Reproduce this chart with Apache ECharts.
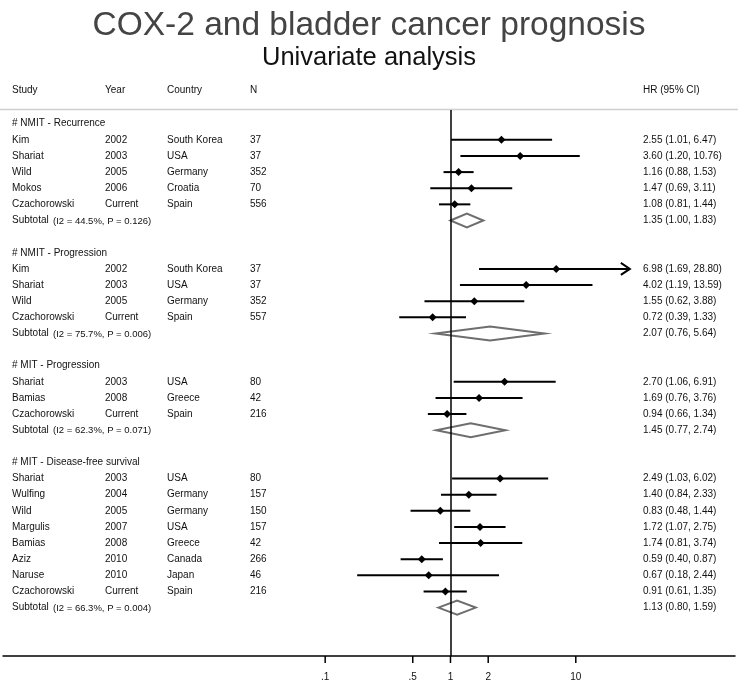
<!DOCTYPE html>
<html><head><meta charset="utf-8">
<script src="https://cdn.jsdelivr.net/npm/echarts@6/dist/echarts.min.js"></script>
<style>html,body{margin:0;padding:0;background:#fff}#c{width:738px;height:683px}</style>
</head><body><div id="c"></div>
<script>
// ---------- data ----------
const groupTitles = ['# NMIT - Recurrence', '# NMIT - Progression', '# MIT - Progression', '# MIT - Disease-free survival'];
const studyGroup   = [0,0,0,0,0, 1,1,1,1, 2,2,2, 3,3,3,3,3,3,3,3];
const studyNames   = ['Kim','Shariat','Wild','Mokos','Czachorowski', 'Kim','Shariat','Wild','Czachorowski', 'Shariat','Bamias','Czachorowski', 'Shariat','Wulfing','Wild','Margulis','Bamias','Aziz','Naruse','Czachorowski'];
const studyYears   = ['2002','2003','2005','2006','Current', '2002','2003','2005','Current', '2003','2008','Current', '2003','2004','2005','2007','2008','2010','2010','Current'];
const studyCountry = ['South Korea','USA','Germany','Croatia','Spain', 'South Korea','USA','Germany','Spain', 'USA','Greece','Spain', 'USA','Germany','Germany','USA','Greece','Canada','Japan','Spain'];
const studyN       = [37,37,352,70,556, 37,37,352,557, 80,42,216, 80,157,150,157,42,266,46,216];
const studyHR      = [2.55,3.60,1.16,1.47,1.08, 6.98,4.02,1.55,0.72, 2.70,1.69,0.94, 2.49,1.40,0.83,1.72,1.74,0.59,0.67,0.91];
const studyLo      = [1.01,1.20,0.88,0.69,0.81, 1.69,1.19,0.62,0.39, 1.06,0.76,0.66, 1.03,0.84,0.48,1.07,0.81,0.40,0.18,0.61];
const studyHi      = [6.47,10.76,1.53,3.11,1.44, 28.80,13.59,3.88,1.33, 6.91,3.76,1.34, 6.02,2.33,1.44,2.75,3.74,0.87,2.44,1.35];
const subHR = [1.35, 2.07, 1.45, 1.13];
const subLo = [1.00, 0.76, 0.77, 0.80];
const subHi = [1.83, 5.64, 2.74, 1.59];
const subI2 = ['44.5%', '75.7%', '62.3%', '66.3%'];
const subP  = ['0.126', '0.006', '0.071', '0.004'];
const tickValues = [0.1, 0.5, 1, 2, 10];
const tickLabels = ['.1', '.5', '1', '2', '10'];
const headerLabels = ['Study', 'Year', 'Country', 'N', 'HR (95% CI)'];

// ---------- layout ----------
const FONT = "'Liberation Sans', Arial, sans-serif";
const COLX = [12, 105, 167, 250, 643];
const TXT = '#111';
const X_MIN = Math.pow(10, -3.571), X_MAX = Math.pow(10, 2.2705);
const Y_MIN = -0.85, Y_MAX = 33;
const CI_LIMIT = 27;

// rows
const rows = [];
let r = 0;
groupTitles.forEach((g, gi) => {
  rows.push({type: 'group', row: r++, gi});
  studyGroup.forEach((sg, i) => { if (sg === gi) rows.push({type: 'study', row: r++, i}); });
  rows.push({type: 'sub', row: r++, gi});
  r++;
});
const studyRow = [], subRow = [];
rows.forEach(o => { if (o.type === 'study') studyRow[o.i] = o.row; if (o.type === 'sub') subRow[o.gi] = o.row; });
const f2 = v => v.toFixed(2);

function txt(x, y, text, size, extra) {
  return {type: 'text', style: Object.assign({x, y, text, fill: TXT, fontSize: size || 10, fontFamily: FONT, verticalAlign: 'middle', align: 'left'}, extra || {})};
}

const chart = echarts.init(document.getElementById('c'), null, {renderer: 'canvas'});
chart.setOption({
  animation: false,
  backgroundColor: '#fff',
  title: [
    {text: 'COX-2 and bladder cancer prognosis', left: 'center', top: 4, textStyle: {fontSize: 33.5, fontWeight: 'normal', color: '#444', fontFamily: FONT}},
    {text: 'Univariate analysis', left: 'center', top: 40, textStyle: {fontSize: 25.5, fontWeight: 'normal', color: '#111', fontFamily: FONT}}
  ],
  grid: {left: 3, right: 3, top: 110, bottom: 27, containLabel: false},
  xAxis: {type: 'log', logBase: 10, min: X_MIN, max: X_MAX,
    axisLine: {show: true, onZero: false, lineStyle: {color: '#000', width: 1.5}},
    axisTick: {show: false}, axisLabel: {show: false}, splitLine: {show: false}},
  yAxis: {type: 'value', inverse: true, min: Y_MIN, max: Y_MAX, show: false},
  graphic: [
    {type: 'line', shape: {x1: 0, y1: 109.5, x2: 738, y2: 109.5}, style: {stroke: '#cfcfcf', lineWidth: 1.5}},
    ...headerLabels.map((h, k) => ({type: 'text', style: {x: COLX[k], y: 90, text: h, fill: TXT, fontSize: 10, fontFamily: FONT, verticalAlign: 'middle'}}))
  ],
  series: [
    {
      type: 'custom', name: 'table', silent: true,
      data: rows.map(o => [1, o.row]),
      renderItem: (params, api) => {
        const o = rows[params.dataIndex];
        const y = api.coord([1, o.row])[1];
        const ch = [];
        if (o.type === 'group') ch.push(txt(COLX[0], y, groupTitles[o.gi]));
        else if (o.type === 'study') {
          const i = o.i;
          ch.push(txt(COLX[0], y, studyNames[i]), txt(COLX[1], y, studyYears[i]), txt(COLX[2], y, studyCountry[i]),
                  txt(COLX[3], y, String(studyN[i])),
                  txt(COLX[4], y, f2(studyHR[i]) + ' (' + f2(studyLo[i]) + ', ' + f2(studyHi[i]) + ')'));
        } else {
          const g = o.gi;
          ch.push(txt(COLX[0], y, 'Subtotal'), txt(53, y + 0.5, '(I2 = ' + subI2[g] + ', P = ' + subP[g] + ')', 9.5),
                  txt(COLX[4], y, f2(subHR[g]) + ' (' + f2(subLo[g]) + ', ' + f2(subHi[g]) + ')'));
        }
        return {type: 'group', children: ch};
      }
    },
    {
      type: 'custom', name: 'studies', silent: true,
      data: studyHR.map((h, i) => [studyLo[i], studyHi[i], h, studyRow[i]]),
      encode: {x: [0, 1, 2], y: 3},
      renderItem: (params, api) => {
        const row = api.value(3), hi = api.value(1);
        const arrow = hi > CI_LIMIT;
        const p1 = api.coord([api.value(0), row]);
        const p2 = api.coord([arrow ? CI_LIMIT : hi, row]);
        const pc = api.coord([api.value(2), row]);
        const d = 4;
        const ch = [
          {type: 'line', shape: {x1: p1[0], y1: p1[1], x2: p2[0], y2: p2[1]}, style: {stroke: '#000', lineWidth: 2}},
          {type: 'polygon', shape: {points: [[pc[0] - d, pc[1]], [pc[0], pc[1] - d], [pc[0] + d, pc[1]], [pc[0], pc[1] + d]]}, style: {fill: '#000'}}
        ];
        if (arrow) ch.push({type: 'polyline', shape: {points: [[p2[0] - 9, p2[1] - 6], [p2[0], p2[1]], [p2[0] - 9, p2[1] + 6]]}, style: {stroke: '#000', lineWidth: 2, fill: null}});
        return {type: 'group', children: ch};
      },
      markLine: {silent: true, symbol: ['none', 'none'], label: {show: false}, lineStyle: {color: '#000', width: 1.5, type: 'solid'}, data: [{xAxis: 1}]}
    },
    {
      type: 'custom', name: 'subtotals', silent: true,
      data: subHR.map((h, g) => [subLo[g], subHi[g], h, subRow[g]]),
      encode: {x: [0, 1, 2], y: 3},
      renderItem: (params, api) => {
        const row = api.value(3);
        const a = api.coord([api.value(0), row]), b = api.coord([api.value(1), row]), c = api.coord([api.value(2), row]);
        const h = 7;
        return {type: 'polygon', shape: {points: [[a[0], a[1]], [c[0], c[1] - h], [b[0], b[1]], [c[0], c[1] + h]]},
                style: {fill: 'rgba(255,255,255,0)', stroke: '#6e6e6e', lineWidth: 2}};
      }
    },
    {
      type: 'custom', name: 'ticks', silent: true,
      data: tickValues.map(v => [v, Y_MAX]),
      renderItem: (params, api) => {
        const p = api.coord([api.value(0), api.value(1)]);
        return {type: 'group', children: [
          {type: 'line', shape: {x1: p[0], y1: p[1], x2: p[0], y2: p[1] + 7}, style: {stroke: '#000', lineWidth: 1.5}},
          {type: 'text', style: {x: p[0], y: p[1] + 21, text: tickLabels[params.dataIndex], fill: TXT, fontSize: 10, fontFamily: FONT, align: 'center', verticalAlign: 'middle'}}
        ]};
      }
    }
  ]
});
</script></body></html>
